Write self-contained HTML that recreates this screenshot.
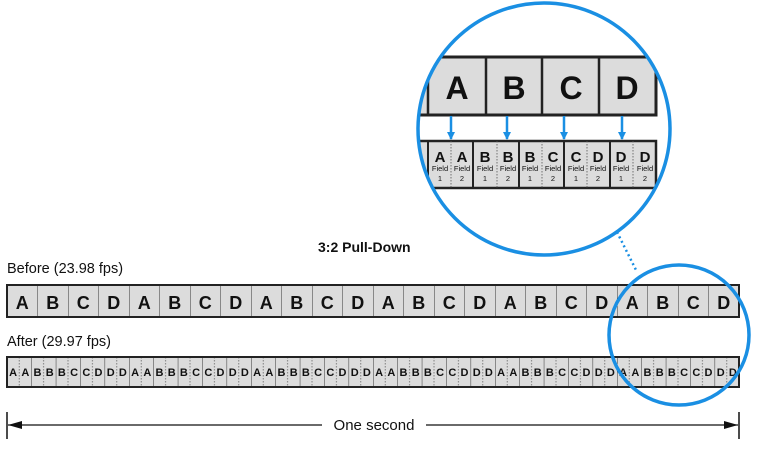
<!DOCTYPE html>
<html><head><meta charset="utf-8"><style>
html,body{margin:0;padding:0;background:#fff;}
svg{display:block;font-family:"Liberation Sans",Arial,sans-serif;}
</style></head><body>
<svg width="765" height="457" viewBox="0 0 765 457" xmlns="http://www.w3.org/2000/svg">
<defs>
<pattern id="pb" x="7" y="0" width="30.5" height="457" patternUnits="userSpaceOnUse">
<line x1="0" y1="0" x2="0" y2="457" stroke="#333" stroke-width="1"/>
</pattern>
<pattern id="pa" x="7" y="0" width="24.4" height="457" patternUnits="userSpaceOnUse">
<line x1="0" y1="0" x2="0" y2="457" stroke="#333" stroke-width="1"/>
<line x1="12.2" y1="0" x2="12.2" y2="457" stroke="#666" stroke-width="0.8" stroke-dasharray="1.5,1.5"/>
</pattern>
<clipPath id="cc"><circle cx="544" cy="129" r="126"/></clipPath>
<marker id="ah" markerWidth="8" markerHeight="8" refX="7" refY="4" orient="auto" markerUnits="userSpaceOnUse"><path d="M0,0 L8,4 L0,8 Z" fill="#1a8fe3"/></marker>
</defs>

<text x="318" y="252" font-size="14" font-weight="bold" fill="#111">3:2 Pull-Down</text>
<text x="7" y="273" font-size="14.5" fill="#111">Before (23.98 fps)</text>
<text x="7" y="346" font-size="14.5" fill="#111">After (29.97 fps)</text>

<rect x="7" y="285" width="732" height="32" fill="#dcdcdc"/>
<rect x="7" y="285" width="732" height="32" fill="url(#pb)"/>
<rect x="7" y="285" width="732" height="32" fill="none" stroke="#222" stroke-width="2"/>
<text y="309" font-size="18" font-weight="bold" fill="#111" text-anchor="middle" x="22.25 52.75 83.25 113.75 144.25 174.75 205.25 235.75 266.25 296.75 327.25 357.75 388.25 418.75 449.25 479.75 510.25 540.75 571.25 601.75 632.25 662.75 693.25 723.75">ABCDABCDABCDABCDABCDABCD</text>

<rect x="7" y="357" width="732" height="30" fill="#dcdcdc"/>
<rect x="7" y="357" width="732" height="30" fill="url(#pa)"/>
<rect x="7" y="357" width="732" height="30" fill="none" stroke="#222" stroke-width="2"/>
<g font-size="11" font-weight="bold" fill="#111" text-anchor="middle">
<text y="376" x="13.1 25.3 37.5 49.7 61.9 74.1 86.3 98.5 110.7 122.9">AABBBCCDDD</text>
<text y="376" x="135.1 147.3 159.5 171.7 183.9 196.1 208.3 220.5 232.7 244.9">AABBBCCDDD</text>
<text y="376" x="257.1 269.3 281.5 293.7 305.9 318.1 330.3 342.5 354.7 366.9">AABBBCCDDD</text>
<text y="376" x="379.1 391.3 403.5 415.7 427.9 440.1 452.3 464.5 476.7 488.9">AABBBCCDDD</text>
<text y="376" x="501.1 513.3 525.5 537.7 549.9 562.1 574.3 586.5 598.7 610.9">AABBBCCDDD</text>
<text y="376" x="623.1 635.3 647.5 659.7 671.9 684.1 696.3 708.5 720.7 732.9">AABBBCCDDD</text>
</g>

<line x1="7" y1="412" x2="7" y2="439" stroke="#111" stroke-width="1.5"/>
<line x1="739" y1="412" x2="739" y2="439" stroke="#111" stroke-width="1.5"/>
<line x1="8" y1="425" x2="322" y2="425" stroke="#111" stroke-width="1.2"/>
<line x1="426" y1="425" x2="738" y2="425" stroke="#111" stroke-width="1.2"/>
<path d="M8,425 L22,421 L22,429 Z" fill="#111"/>
<path d="M738,425 L724,421 L724,429 Z" fill="#111"/>
<text x="374" y="430" font-size="15" fill="#111" text-anchor="middle">One second</text>

<circle cx="679" cy="335" r="70" fill="none" stroke="#1a8fe3" stroke-width="3.5"/>
<line x1="617" y1="232" x2="636" y2="270" stroke="#1a8fe3" stroke-width="2.5" stroke-dasharray="2,3"/>

<circle cx="544" cy="129" r="126" fill="#fff"/>
<g clip-path="url(#cc)">
<rect x="370" y="57" width="286" height="58" fill="#dcdcdc" stroke="#222" stroke-width="3"/>
<g stroke="#222" stroke-width="2.5">
<line x1="428" y1="57" x2="428" y2="115"/><line x1="486" y1="57" x2="486" y2="115"/>
<line x1="542" y1="57" x2="542" y2="115"/><line x1="599" y1="57" x2="599" y2="115"/>
</g>
<text y="99" font-size="32" font-weight="bold" fill="#111" text-anchor="middle" x="457 514 571 627">ABCD</text>
<g stroke="#1a8fe3" stroke-width="2.5" marker-end="url(#ah)">
<line x1="451" y1="116" x2="451" y2="139"/><line x1="507" y1="116" x2="507" y2="139"/>
<line x1="564" y1="116" x2="564" y2="139"/><line x1="622" y1="116" x2="622" y2="139"/>
</g>
<rect x="370" y="141" width="286" height="47" fill="#dcdcdc" stroke="#222" stroke-width="2.5"/>
<g stroke="#222" stroke-width="2">
<line x1="428" y1="141" x2="428" y2="188"/><line x1="473" y1="141" x2="473" y2="188"/>
<line x1="519" y1="141" x2="519" y2="188"/><line x1="564" y1="141" x2="564" y2="188"/>
<line x1="610" y1="141" x2="610" y2="188"/>
</g>
<g stroke="#555" stroke-width="0.8" stroke-dasharray="1.5,1.5">
<line x1="451" y1="141" x2="451" y2="188"/><line x1="497" y1="141" x2="497" y2="188"/>
<line x1="542" y1="141" x2="542" y2="188"/><line x1="587" y1="141" x2="587" y2="188"/>
<line x1="633" y1="141" x2="633" y2="188"/>
</g>
<text y="162" font-size="15" font-weight="bold" fill="#111" text-anchor="middle" x="440 462 485 508 530 553 576 598 621 645">AABBBCCDDD</text>
<g font-size="7.5" fill="#111" text-anchor="middle">
<text y="171" x="440">Field</text><text y="171" x="462">Field</text><text y="171" x="485">Field</text><text y="171" x="508">Field</text><text y="171" x="530">Field</text><text y="171" x="553">Field</text><text y="171" x="576">Field</text><text y="171" x="598">Field</text><text y="171" x="621">Field</text><text y="171" x="645">Field</text>
<text y="181" x="440 462 485 508 530 553 576 598 621 645">1212121212</text>
</g>
</g>
<circle cx="544" cy="129" r="126" fill="none" stroke="#1a8fe3" stroke-width="3.5"/>
</svg>
</body></html>
